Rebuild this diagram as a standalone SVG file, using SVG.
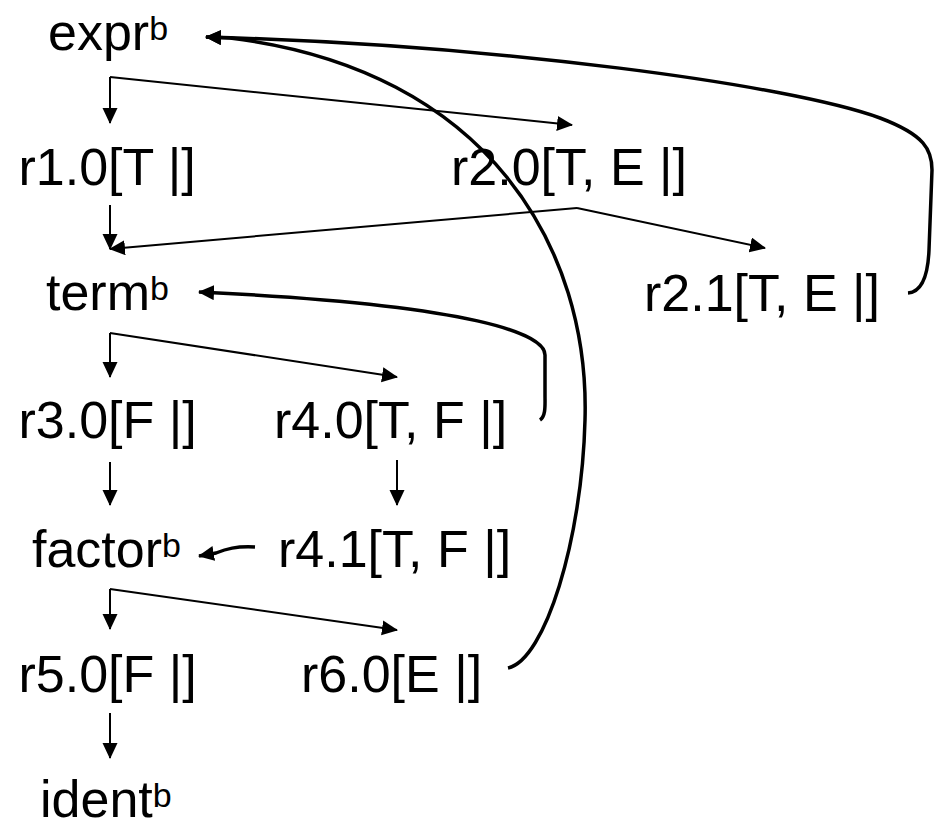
<svg xmlns="http://www.w3.org/2000/svg" width="941" height="836" viewBox="0 0 941 836">
<defs>
<style>
text{font-family:"Liberation Sans",Arial,sans-serif;font-size:52px;fill:#000}
tspan.s{font-size:34px}
.thin{fill:none;stroke:#000;stroke-width:2;marker-end:url(#ah)}
.thick{fill:none;stroke:#000;stroke-width:3.5;marker-end:url(#ah)}
</style>
<marker id="ah" markerWidth="16" markerHeight="16" refX="15" refY="7.5" orient="auto" markerUnits="userSpaceOnUse">
<path d="M0,0 L16,7.5 L0,15 z" fill="#000"/>
</marker>
</defs>
<rect width="941" height="836" fill="#fff"/>
<g id="expr"><text x="48" y="50">expr<tspan class="s" dy="-10">b</tspan></text></g>
<g id="r1.0"><text x="18.5" y="185">r1.0[T |]</text></g>
<g id="r2.0"><text x="451" y="185">r2.0[T, E |]</text></g>
<g id="term"><text x="46" y="310">term<tspan class="s" dy="-10">b</tspan></text></g>
<g id="r2.1"><text x="644" y="311">r2.1[T, E |]</text></g>
<g id="r3.0"><text x="18.5" y="438">r3.0[F |]</text></g>
<g id="r4.0"><text x="274" y="438">r4.0[T, F |]</text></g>
<g id="factor"><text x="32" y="567">factor<tspan class="s" dy="-10">b</tspan></text></g>
<g id="r4.1"><text x="278" y="567">r4.1[T, F |]</text></g>
<g id="r5.0"><text x="18.5" y="692">r5.0[F |]</text></g>
<g id="r6.0"><text x="301" y="692">r6.0[E |]</text></g>
<g id="ident"><text x="40" y="817">ident<tspan class="s" dy="-10">b</tspan></text></g>
<g id="connectors">
<path class="thin" d="M110,77 L110,123"/>
<path class="thin" d="M110,77 L572,125"/>
<path class="thin" d="M110,205 L110,249"/>
<path class="thin" d="M577,208 L110,249"/>
<path class="thin" d="M577,208 L765,248"/>
<path class="thin" d="M110,333 L110,377"/>
<path class="thin" d="M110,333 L397,377"/>
<path class="thin" d="M110,462 L110,505"/>
<path class="thin" d="M397,460 L397,505"/>
<path class="thin" d="M110,589 L110,629"/>
<path class="thin" d="M110,589 L397,630"/>
<path class="thin" d="M110,713 L110,758"/>
<path class="thick" d="M255,547 C236,546 226,549 216,553 L199,556"/>
<path class="thick" d="M908,293 C922,292 928,275 929,250 L932,170 C932,150 925,135 880,118 C790,85 500,45 206,37"/>
<path class="thick" d="M508,668 C545,660 582,540 585,420 C590,250 490,70 230,38 L206,37"/>
<path class="thick" d="M540,420 C546,416 545,405 545,395 L545,355 C545,335 480,305 199,292"/>
</g>
</svg>
